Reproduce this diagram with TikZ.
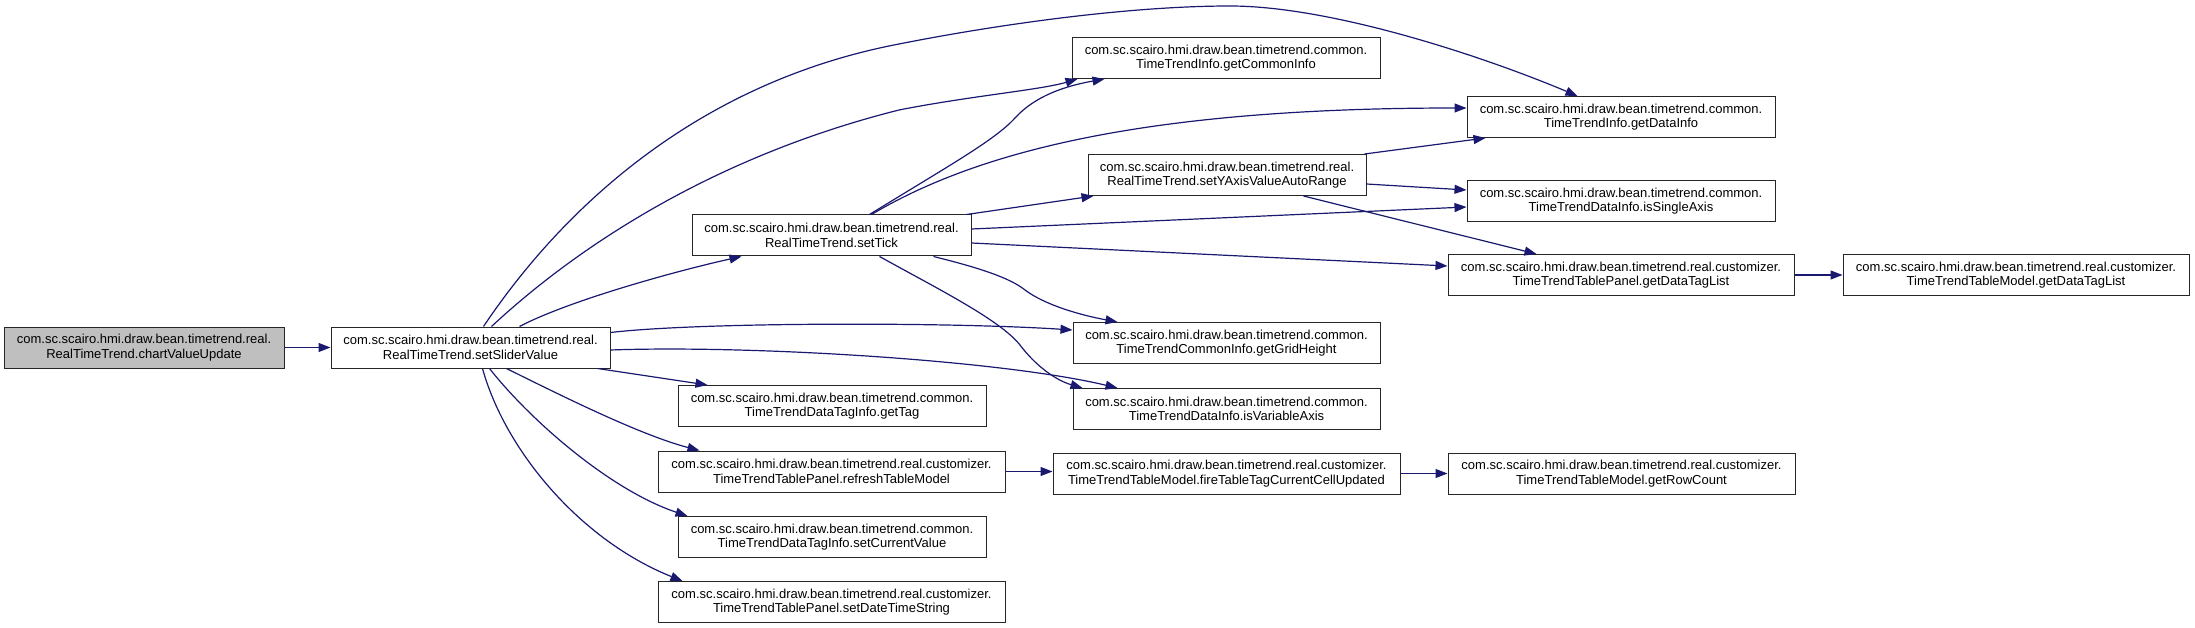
\documentclass[tikz,border=0pt]{standalone}
\usepackage{fontspec}
\setmainfont{Liberation Sans}
\usetikzlibrary{arrows.meta}
\definecolor{edgeblue}{HTML}{191970}
\definecolor{rootgray}{HTML}{BFBFBF}
\newcommand{\pkgreal}{com.sc.scairo.hmi.draw.bean.timetrend.real.}
\newcommand{\pkgcommon}{com.sc.scairo.hmi.draw.bean.timetrend.common.}
\newcommand{\pkgcust}{com.sc.scairo.hmi.draw.bean.timetrend.real.customizer.}
\begin{document}
\begin{tikzpicture}[x=1pt,y=-1pt,
  fn/.style={draw=black!85, line width=1pt, fill=white, rectangle, minimum height=41pt,
    inner sep=0pt, align=center, font=\fontsize{13}{14.5}\selectfont},
  call/.style={draw=edgeblue, line width=1.2pt, -{Triangle[length=12pt,width=9pt]}}]
\useasboundingbox (0,0) rectangle (2195,628);

% nodes
\node[fn, fill=rootgray, minimum width=280pt] (cvu) at (144,347.5) {\pkgreal\\RealTimeTrend.chartValueUpdate};
\node[fn, minimum width=279pt] (ssv) at (470.5,347.5) {\pkgreal\\RealTimeTrend.setSliderValue};
\node[fn, minimum width=279pt] (tick) at (831.5,235.5) {\pkgreal\\RealTimeTrend.setTick};
\node[fn, minimum width=308pt] (gci) at (1226,58) {\pkgcommon\\TimeTrendInfo.getCommonInfo};
\node[fn, minimum width=308pt] (gdi) at (1621,117) {\pkgcommon\\TimeTrendInfo.getDataInfo};
\node[fn, minimum width=278pt] (yax) at (1227,175) {\pkgreal\\RealTimeTrend.setYAxisValueAutoRange};
\node[fn, minimum width=308pt] (isa) at (1621,201) {\pkgcommon\\TimeTrendDataInfo.isSingleAxis};
\node[fn, minimum width=346pt] (pgdtl) at (1621,275) {\pkgcust\\TimeTrendTablePanel.getDataTagList};
\node[fn, minimum width=346pt] (mgdtl) at (2016,275) {\pkgcust\\TimeTrendTableModel.getDataTagList};
\node[fn, minimum width=307pt] (ggh) at (1226.5,343) {\pkgcommon\\TimeTrendCommonInfo.getGridHeight};
\node[fn, minimum width=307pt] (iva) at (1226.5,409) {\pkgcommon\\TimeTrendDataInfo.isVariableAxis};
\node[fn, minimum width=308pt] (gtag) at (832,406) {\pkgcommon\\TimeTrendDataTagInfo.getTag};
\node[fn, minimum width=347pt] (rtm) at (831.5,471.5) {\pkgcust\\TimeTrendTablePanel.refreshTableModel};
\node[fn, minimum width=347pt] (ftt) at (1226.5,473.5) {\pkgcust\\TimeTrendTableModel.fireTableTagCurrentCellUpdated};
\node[fn, minimum width=347pt] (grc) at (1621.5,473.5) {\pkgcust\\TimeTrendTableModel.getRowCount};
\node[fn, minimum width=308pt] (scv) at (832,537) {\pkgcommon\\TimeTrendDataTagInfo.setCurrentValue};
\node[fn, minimum width=347pt] (sdts) at (831.5,602) {\pkgcust\\TimeTrendTablePanel.setDateTimeString};

% edges from chartValueUpdate
\draw[call] (cvu.east) -- (ssv.west);

% edges from setSliderValue
\draw[call] ([xshift=153pt]ssv.north west) .. controls (565,205) and (700,82) .. (899,44)
   .. controls (1000,24) and (1130,6) .. (1230,6)
   .. controls (1330,6) and (1480,55) .. ([xshift=111pt]gdi.north west);
\draw[call] ([xshift=161pt]ssv.north west) .. controls (565,258) and (700,160) .. (899,110)
   .. controls (970,96) and (1040,90) .. ([xshift=6pt]gci.south west);
\draw[call] ([xshift=189pt]ssv.north west) .. controls (570,300) and (680,270) .. ([xshift=50pt]tick.south west);
\draw[call] ([yshift=15pt]ssv.east) .. controls (700,322) and (950,322) .. ([yshift=13pt]ggh.west);
\draw[call] ([yshift=-2.5pt]ssv.east) .. controls (750,345) and (1000,360) .. ([xshift=45pt]iva.north west);
\draw[call] ([xshift=-13pt]ssv.south east) -- ([xshift=30pt]gtag.north west);
\draw[call] ([xshift=176pt]ssv.south west) .. controls (560,395) and (640,435) .. ([xshift=42pt]rtm.north west);
\draw[call] ([xshift=159pt]ssv.south west) .. controls (530,420) and (610,490) .. ([xshift=10pt]scv.north west);
\draw[call] ([xshift=152pt]ssv.south west) .. controls (505,450) and (580,540) .. ([xshift=25pt]sdts.north west);

% edges from setTick
\draw[call] ([xshift=178pt]tick.north west) .. controls (950,165) and (995,140) .. (1015,118)
   .. controls (1035,96) and (1065,86) .. ([xshift=33pt]gci.south west);
\draw[call] ([xshift=180pt]tick.north west) .. controls (980,150) and (1150,108) .. ([yshift=9pt]gdi.west);
\draw[call] ([xshift=-5pt]tick.north east) -- ([xshift=6pt]yax.south west);
\draw[call] ([yshift=6.5pt]tick.east) -- ([yshift=-6pt]isa.west);
\draw[call] ([yshift=-7.5pt]tick.east) -- ([yshift=9pt]pgdtl.west);
\draw[call] ([xshift=-38pt]tick.south east) .. controls (980,268) and (1010,278) .. (1025,290)
   .. controls (1045,305) and (1080,315) .. ([xshift=45pt]ggh.north west);
\draw[call] ([xshift=188pt]tick.south west) .. controls (940,290) and (1000,320) .. (1020,345)
   .. controls (1035,365) and (1055,380) .. ([xshift=10pt]iva.north west);

% edges from setYAxisValueAutoRange
\draw[call] ([xshift=-2pt]yax.north east) -- ([xshift=19pt]gdi.south west);
\draw[call] ([yshift=-9pt]yax.east) -- ([yshift=11pt]isa.west);
\draw[call] ([xshift=-63pt]yax.south east) -- ([xshift=89pt]pgdtl.north west);

% remaining chains
\draw[call] (pgdtl.east) -- (mgdtl.west);
\draw[call] (rtm.east) -- (rtm.east -| ftt.west);
\draw[call] (ftt.east) -- (grc.west);
\end{tikzpicture}
\end{document}
